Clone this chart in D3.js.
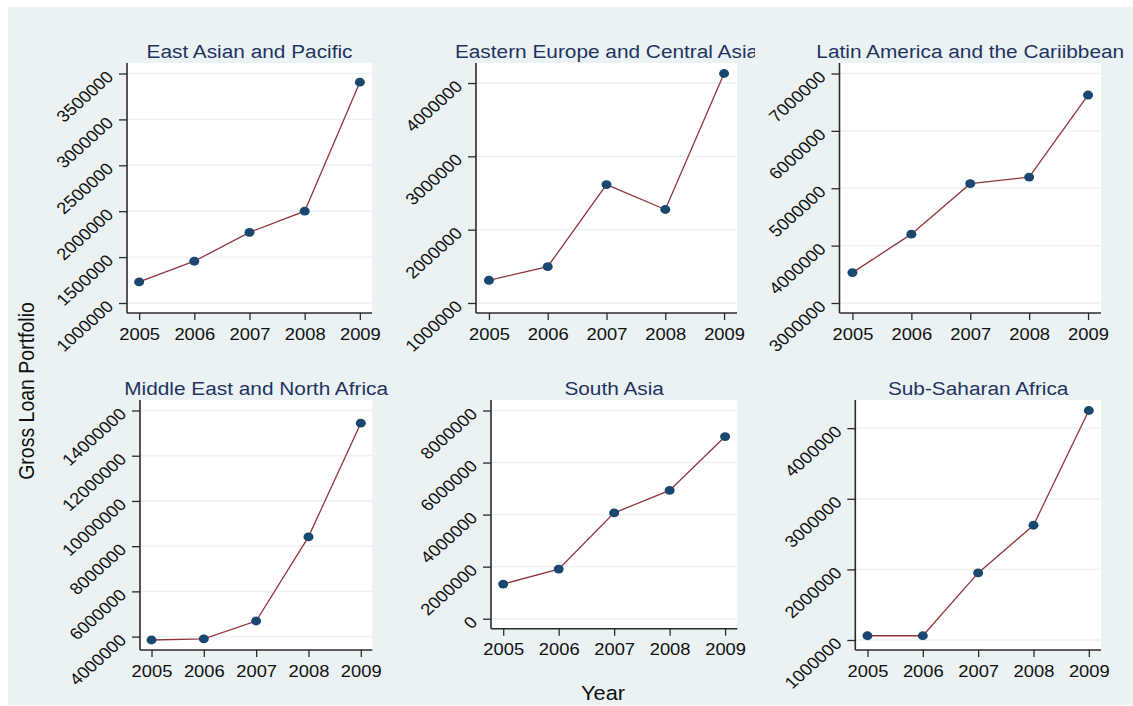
<!DOCTYPE html>
<html>
<head>
<meta charset="utf-8">
<script src="https://cdn.jsdelivr.net/npm/d3@7"></script>
<style>
  html, body { margin: 0; padding: 0; background: #ffffff; }
  svg { display: block; }
  text { font-family: "Liberation Sans", Arial, Helvetica, sans-serif; }
</style>
</head>
<body>
<script>
// ---- data -------------------------------------------------------------
const years = [2005, 2006, 2007, 2008, 2009];

const regions = [
  "East Asian and Pacific",
  "Eastern Europe and Central Asia",
  "Latin America and the Cariibbean",
  "Middle East and North Africa",
  "South Asia",
  "Sub-Saharan Africa"
];

// gross loan portfolio per region, 2005-2009
const eastAsiaPacific   = [1230000, 1455000, 1770000, 2000000, 3405000];
const easternEurope     = [1310000, 1495000, 2615000, 2275000, 4130000];
const latinAmerica      = [3530000, 4200000, 5080000, 5195000, 6625000];
const middleEastAfrica  = [3850000, 3900000, 4690000, 8410000, 13440000];
const southAsia         = [1330000, 1905000, 4065000, 4930000, 7000000];
const subSaharanAfrica  = [1060000, 1060000, 1950000, 2625000, 4250000];

// y-axis tick labels per region
const ticksEastAsia   = [1000000, 1500000, 2000000, 2500000, 3000000, 3500000];
const ticksEastEurope = [1000000, 2000000, 3000000, 4000000];
const ticksLatin      = [3000000, 4000000, 5000000, 6000000, 7000000];
const ticksMiddleEast = [4000000, 6000000, 8000000, 10000000, 12000000, 14000000];
const ticksSouthAsia  = [0, 2000000, 4000000, 6000000, 8000000];
const ticksSubSaharan = [1000000, 2000000, 3000000, 4000000];

const series = [eastAsiaPacific, easternEurope, latinAmerica,
                middleEastAfrica, southAsia, subSaharanAfrica];
const yTicks = [ticksEastAsia, ticksEastEurope, ticksLatin,
                ticksMiddleEast, ticksSouthAsia, ticksSubSaharan];

// ---- layout -----------------------------------------------------------
const W = 1133, H = 706;
const SX = 1.12;                 // horizontal stretch of the rendered text
const frames = [
  { left: 127,   right: 372,   top: 63,  bottom: 313,   clipL: 8,   clipR: 395 },
  { left: 476,   right: 737,   top: 63,  bottom: 313,   clipL: 395, clipR: 755 },
  { left: 839.5, right: 1101,  top: 63,  bottom: 313,   clipL: 755, clipR: 1133 },
  { left: 140,   right: 372.3, top: 400, bottom: 650,   clipL: 8,   clipR: 395 },
  { left: 491,   right: 737.3, top: 400, bottom: 628.7, clipL: 395, clipR: 755 },
  { left: 855.3, right: 1101,  top: 400, bottom: 650,   clipL: 755, clipR: 1133 }
];

const C = {
  graphBg: "#eaf2f3",
  plotBg: "#ffffff",
  grid: "#eaf2f3",
  axis: "#2b2b2b",
  title: "#1f3461",
  marker: "#1a476f",
  line: "#90353b",
  text: "#111111"
};

const svg = d3.select("body").append("svg")
  .attr("width", W).attr("height", H);

svg.append("rect").attr("x", 0).attr("y", 0).attr("width", W).attr("height", H)
  .attr("fill", "#ffffff");
svg.append("rect").attr("x", 8).attr("y", 7).attr("width", W - 8).attr("height", 698)
  .attr("fill", C.graphBg);

const defs = svg.append("defs");

frames.forEach((f, i) => {
  const data = years.map((yr, k) => ({ year: yr, value: series[i][k] }));
  const ticks = yTicks[i];
  const lo = Math.min(d3.min(ticks), d3.min(series[i]));
  const hi = Math.max(d3.max(ticks), d3.max(series[i]));

  const x = d3.scaleLinear().domain([2004.78, 2009.22]).range([f.left, f.right]);
  const y = d3.scaleLinear().domain([lo, hi]).range([f.bottom - 10, f.top + 10.5]);

  const g = svg.append("g");

  // plot region
  g.append("rect")
    .attr("x", f.left).attr("y", f.top)
    .attr("width", f.right - f.left).attr("height", f.bottom - f.top)
    .attr("fill", C.plotBg);

  // horizontal grid
  g.selectAll("line.grid").data(ticks).join("line")
    .attr("class", "grid")
    .attr("x1", f.left).attr("x2", f.right)
    .attr("y1", d => y(d)).attr("y2", d => y(d))
    .attr("stroke", C.grid).attr("stroke-width", 1.4);

  // panel title, clipped to its cell
  const clipId = "clip" + i;
  defs.append("clipPath").attr("id", clipId).append("rect")
    .attr("x", f.clipL).attr("y", f.top - 40)
    .attr("width", f.clipR - f.clipL).attr("height", 40);
  g.append("g").attr("clip-path", `url(#${clipId})`)
    .append("text")
    .attr("transform", `translate(${(f.left + f.right) / 2},${f.top - 5}) scale(${SX},1)`)
    .attr("text-anchor", "middle")
    .attr("font-size", 18.6)
    .attr("fill", C.title)
    .text(regions[i]);

  // y axis
  const yAxis = d3.axisLeft(y).tickValues(ticks).tickSize(8).tickFormat(d3.format("d"));
  const ya = g.append("g").attr("transform", `translate(${f.left},0)`).call(yAxis);
  ya.select(".domain").remove();
  ya.selectAll(".tick line").attr("stroke", C.axis).attr("stroke-width", 1.3);
  ya.selectAll(".tick text").remove();
  ya.selectAll(".tick").append("text")
    .attr("transform", `translate(-17,0) scale(${SX},1) rotate(-45)`)
    .attr("text-anchor", "end")
    .attr("dy", "0.35em")
    .attr("font-size", 16.4)
    .attr("fill", C.text)
    .text(d => d3.format("d")(d));

  // x axis
  const xAxis = d3.axisBottom(x).tickValues(years).tickSize(7).tickFormat(d3.format("d"));
  const xa = g.append("g").attr("transform", `translate(0,${f.bottom})`).call(xAxis);
  xa.select(".domain").remove();
  xa.selectAll(".tick line").attr("stroke", C.axis).attr("stroke-width", 1.3);
  xa.selectAll(".tick text").remove();
  xa.selectAll(".tick").append("text")
    .attr("transform", `translate(0,26.5) scale(${SX},1)`)
    .attr("text-anchor", "middle")
    .attr("font-size", 16.4)
    .attr("fill", C.text)
    .text(d => d);

  // axis lines
  g.append("line")
    .attr("x1", f.left).attr("x2", f.left).attr("y1", f.top).attr("y2", f.bottom)
    .attr("stroke", C.axis).attr("stroke-width", 1.6);
  g.append("line")
    .attr("x1", f.left).attr("x2", f.right).attr("y1", f.bottom).attr("y2", f.bottom)
    .attr("stroke", C.axis).attr("stroke-width", 1.6);

  // series
  g.append("path").datum(data)
    .attr("d", d3.line().x(d => x(d.year)).y(d => y(d.value)))
    .attr("fill", "none").attr("stroke", C.line).attr("stroke-width", 1.3);

  g.selectAll("ellipse.pt").data(data).join("ellipse")
    .attr("class", "pt")
    .attr("cx", d => x(d.year)).attr("cy", d => y(d.value))
    .attr("rx", 5).attr("ry", 4.4)
    .attr("fill", C.marker);
});

// shared axis titles
svg.append("text")
  .attr("transform", `translate(34,391) rotate(-90) scale(1,${SX})`)
  .attr("text-anchor", "middle")
  .attr("font-size", 19.5)
  .attr("fill", C.text)
  .text("Gross Loan Portfolio");

svg.append("text")
  .attr("transform", `translate(603,700) scale(${SX},1)`)
  .attr("text-anchor", "middle")
  .attr("font-size", 19.5)
  .attr("fill", C.text)
  .text("Year");
</script>
</body>
</html>
